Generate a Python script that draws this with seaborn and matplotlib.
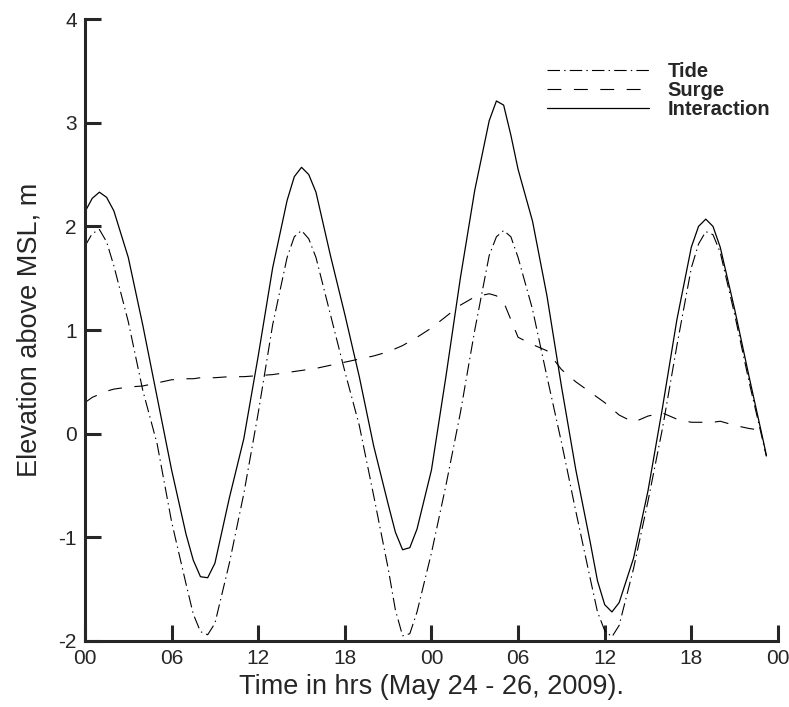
import numpy as np
import pandas as pd
import matplotlib
matplotlib.use("Agg")
import matplotlib.pyplot as plt
import seaborn as sns

# hours from 00:00 May 24, 2009 (extra half hours near the crests / troughs)
hours = [0, 0.5, 1, 1.5, 2, 3, 4, 5, 6, 7,
         7.5, 8, 8.5, 9, 10, 11, 12, 13, 14, 14.5,
         15, 15.5, 16, 17, 18, 19, 20, 21, 21.5, 22,
         22.5, 23, 24, 25, 26, 27, 28, 28.5, 29, 29.5,
         30, 31, 32, 33, 34, 35, 35.5, 36, 36.5, 37,
         38, 39, 40, 41, 42, 42.5, 43, 43.5, 44, 45,
         46, 47, 47.2]

tide = [1.81, 1.93, 1.97, 1.85, 1.62, 1.08, 0.42, -0.10, -0.85, -1.45,
        -1.74, -1.91, -1.94, -1.83, -1.25, -0.58, 0.20, 1.05, 1.70, 1.90,
        1.96, 1.88, 1.70, 1.15, 0.60, 0.08, -0.60, -1.30, -1.70, -1.95,
        -1.93, -1.72, -1.15, -0.50, 0.20, 1.00, 1.72, 1.90, 1.96, 1.90,
        1.70, 1.20, 0.55, -0.08, -0.75, -1.40, -1.72, -1.90, -1.96, -1.85,
        -1.30, -0.65, 0.05, 0.85, 1.60, 1.83, 1.95, 1.92, 1.75, 1.15,
        0.50, -0.10, -0.22]

surge = [0.30, 0.35, 0.38, 0.41, 0.43, 0.45, 0.46, 0.49, 0.52, 0.53,
         0.53, 0.54, 0.54, 0.54, 0.55, 0.55, 0.56, 0.57, 0.59, 0.60,
         0.61, 0.62, 0.63, 0.66, 0.69, 0.72, 0.75, 0.79, 0.82, 0.85,
         0.89, 0.93, 1.02, 1.13, 1.24, 1.32, 1.35, 1.33, 1.27, 1.10,
         0.93, 0.86, 0.80, 0.62, 0.50, 0.40, 0.35, 0.30, 0.24, 0.18,
         0.11, 0.17, 0.20, 0.14, 0.11, 0.11, 0.11, 0.11, 0.12, 0.08,
         0.05, 0.03, 0.02]

interaction = [2.14, 2.27, 2.33, 2.28, 2.15, 1.70, 1.05, 0.35, -0.35, -0.97,
               -1.22, -1.38, -1.39, -1.25, -0.62, -0.05, 0.75, 1.60, 2.25, 2.48,
               2.57, 2.50, 2.33, 1.72, 1.15, 0.55, -0.12, -0.68, -0.95, -1.12,
               -1.10, -0.92, -0.35, 0.55, 1.50, 2.35, 3.02, 3.21, 3.17, 2.88,
               2.55, 2.05, 1.33, 0.46, -0.35, -1.05, -1.42, -1.65, -1.72, -1.63,
               -1.20, -0.55, 0.25, 1.10, 1.80, 2.00, 2.07, 2.00, 1.80, 1.20,
               0.55, -0.08, -0.21]

xtick_pos = [0, 6, 12, 18, 24, 30, 36, 42, 48]
xtick_lab = ["00", "06", "12", "18", "00", "06", "12", "18", "00"]

sns.set_style("ticks")
plt.rcParams['font.family'] = ['Liberation Sans', 'DejaVu Sans']
plt.rcParams['lines.scale_dashes'] = False

df = pd.DataFrame({"t": hours, "Tide": tide, "Surge": surge, "Interaction": interaction})

fig = plt.figure(figsize=(7.89, 7.07), dpi=100)
ax = fig.add_axes([0.1077, 0.0934, 0.8783, 0.8796])

sns.lineplot(data=df, x="t", y="Tide", ax=ax, color="k", lw=0.8,
             linestyle=(0, (9, 3, 1, 3)), label="Tide")
sns.lineplot(data=df, x="t", y="Surge", ax=ax, color="k", lw=0.8,
             linestyle=(0, (10, 9)), label="Surge")
sns.lineplot(data=df, x="t", y="Interaction", ax=ax, color="k", lw=0.9,
             linestyle="-", label="Interaction")

ax.set_xlim(0, 48)
ax.set_ylim(-2, 4)
ax.set_xticks(xtick_pos)
ax.set_xticklabels(xtick_lab)
ax.set_yticks([-2, -1, 0, 1, 2, 3, 4])
ax.set_yticklabels(["-2", "-1", "0", "1", "2", "3", "4"])

for s in ["top", "right"]:
    ax.spines[s].set_visible(False)
for s in ["left", "bottom"]:
    ax.spines[s].set_linewidth(2.2)
ax.tick_params(direction="in", length=11.5, width=2.2, labelsize=15, pad=6)

ax.set_xlabel("Time in hrs (May 24 - 26, 2009).", fontsize=19.5, labelpad=4)
ax.set_ylabel("Elevation above MSL, m", fontsize=19.5, labelpad=11)

leg = ax.legend(loc="upper left", bbox_to_anchor=(0.64, 0.96), frameon=False,
                handlelength=5.1, handletextpad=0.9, labelspacing=0.0,
                prop={"weight": "bold", "size": 14.5})

fig.savefig("out.png", dpi=100)
